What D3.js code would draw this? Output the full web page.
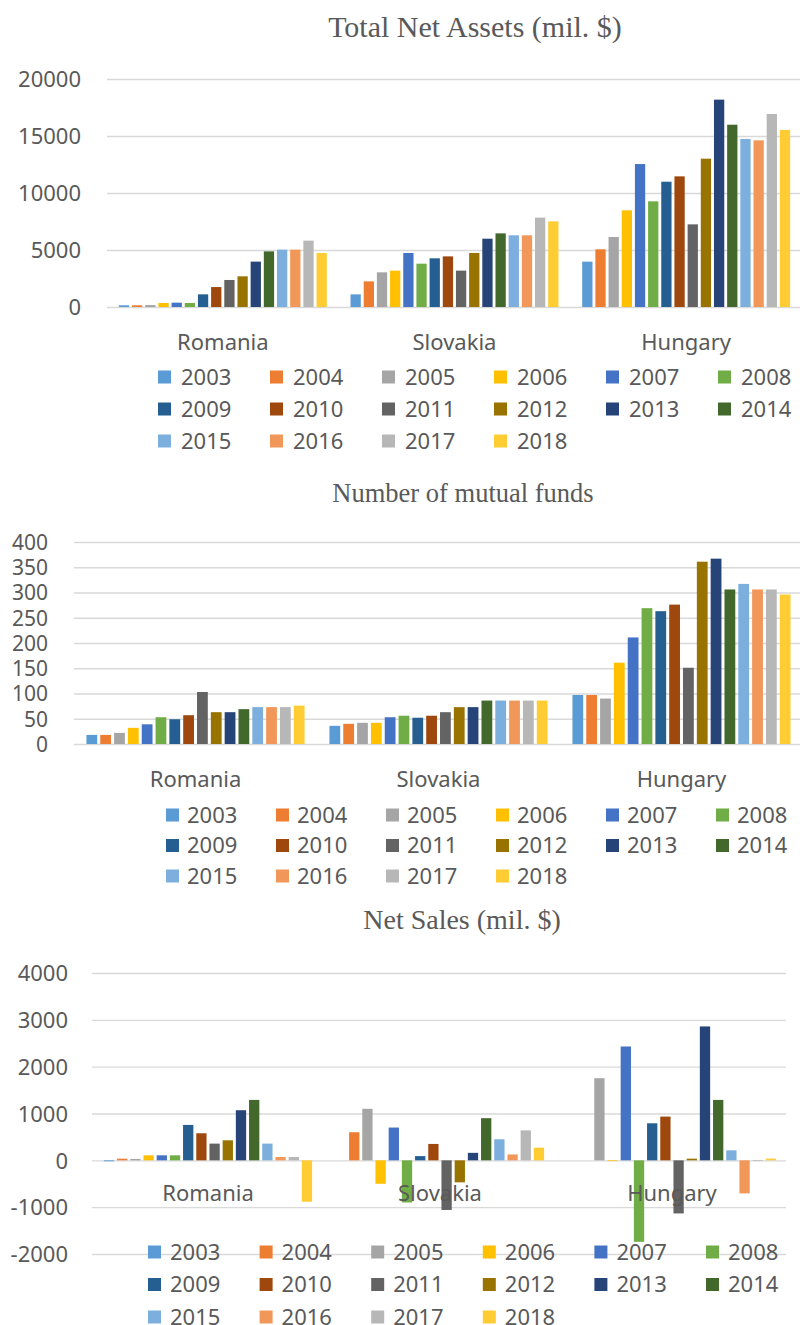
<!DOCTYPE html>
<html>
  <head>
    <meta charset="utf-8">
    <title>Romania, Slovakia, Hungary mutual funds</title>
    <script src="https://d3js.org/d3.v7.min.js"></script>
    <style>
      body { margin: 0; background: #fff; }
      .title { font-family: "Liberation Serif", serif; fill: #595959; text-anchor: middle; }
      .tick text, .legend text { font-family: "Noto Sans", sans-serif; fill: #595959; }
    </style>
  </head>
  <body>
    <div id="chart"></div>
    <script>
      // categories and series
      const countries = ["Romania", "Slovakia", "Hungary"];
      const years = ["2003", "2004", "2005", "2006", "2007", "2008", "2009", "2010",
                     "2011", "2012", "2013", "2014", "2015", "2016", "2017", "2018"];

      // Total Net Assets (mil. $)
      const netAssetsRomania = [150, 150, 170, 350, 380, 350, 1110, 1750, 2370, 2690, 3980, 4880, 5030, 5030, 5820, 4740];
      const netAssetsSlovakia = [1110, 2250, 3040, 3190, 4740, 3800, 4270, 4440, 3190, 4740, 5990, 6460, 6290, 6290, 7840, 7510];
      const netAssetsHungary = [3980, 5060, 6140, 8480, 12540, 9270, 10990, 11460, 7250, 13010, 18190, 15990, 14740, 14620, 16930, 15530];
      const netAssetsTicks = [0, 5000, 10000, 15000, 20000];

      // Number of mutual funds
      const fundsRomania = [18, 18, 22, 32, 39, 53, 49, 57, 103, 63, 63, 69, 73, 73, 73, 76];
      const fundsSlovakia = [36, 40, 42, 42, 53, 56, 52, 56, 63, 73, 73, 86, 86, 86, 86, 86];
      const fundsHungary = [97, 97, 90, 161, 211, 269, 263, 276, 151, 361, 367, 306, 317, 306, 306, 296];
      const fundsTicks = [0, 50, 100, 150, 200, 250, 300, 350, 400];

      // Net Sales (mil. $)
      const salesRomania = [-20, 35, 30, 107, 107, 107, 756, 578, 357, 428, 1070, 1290, 357, 71, 71, -884];
      const salesSlovakia = [0, 600, 1100, -500, 700, -900, 90, 350, -1060, -470, 160, 900, 450, 125, 640, 270];
      const salesHungary = [0, 0, 1754, -15, 2431, -1740, 791, 934, -1134, 36, 2859, 1290, 214, -706, -15, 36];
      const salesTicks = [-2000, -1000, 0, 1000, 2000, 3000, 4000];

      // office palette, one colour per year
      const colors = ["#5b9bd5", "#ed7d31", "#a5a5a5", "#ffc000", "#4472c4", "#70ad47",
                      "#255e91", "#9e480e", "#636363", "#997300", "#264478", "#43682b",
                      "#7cafdd", "#f1975a", "#b7b7b7", "#ffcd33"];

      const svg = d3.select("#chart").append("svg")
        .attr("width", 800)
        .attr("height", 1325);

      function drawChart(c) {
        const g = svg.append("g");

        const x0 = d3.scaleBand().domain(countries).range([c.left, c.right]);
        const x1 = d3.scaleBand().domain(years)
          .range([0, x0.bandwidth()])
          .paddingInner(0.22)
          .paddingOuter(0.9);
        const y = d3.scaleLinear().domain(c.domain).range([c.bottom, c.top]);

        // title
        g.append("text")
          .attr("class", "title")
          .attr("x", c.titleX)
          .attr("y", c.titleY)
          .style("font-size", c.titleSize + "px")
          .text(c.title);

        // gridlines + value labels
        const yAxis = g.append("g")
          .attr("transform", `translate(${c.left},0)`)
          .call(d3.axisLeft(y)
            .tickValues(c.ticks)
            .tickSize(-(c.gridRight - c.left))
            .tickPadding(c.left - c.labelRight)
            .tickFormat((d) => String(d)));
        yAxis.select(".domain").remove();
        yAxis.selectAll("line").attr("stroke", "#d9d9d9").attr("stroke-width", 1.3);
        yAxis.selectAll("text").style("font-size", c.tickSize + "px").attr("dy", "0.35em");

        // bars
        const groups = countries.map((k, i) => ({ country: k, values: c.series[i] }));
        g.append("g")
          .selectAll("g")
          .data(groups)
          .join("g")
          .attr("transform", (d) => `translate(${x0(d.country)},0)`)
          .selectAll("rect")
          .data((d) => d.values.map((v, j) => ({ year: years[j], value: v, i: j })))
          .join("rect")
          .attr("x", (d) => x1(d.year))
          .attr("width", x1.bandwidth())
          .attr("y", (d) => y(Math.max(0, d.value)))
          .attr("height", (d) => Math.abs(y(d.value) - y(0)))
          .attr("fill", (d) => colors[d.i]);

        // country labels
        const xAxis = g.append("g")
          .attr("transform", `translate(0,${c.catY})`)
          .call(d3.axisBottom(x0).tickSize(0).tickPadding(0));
        xAxis.select(".domain").remove();
        xAxis.selectAll("text").style("font-size", "22px").attr("dy", "0.35em");

        // legend
        const legend = g.append("g").attr("class", "legend");
        const item = legend.selectAll("g")
          .data(years)
          .join("g")
          .attr("transform", (d, i) =>
            `translate(${c.legX + (i % 6) * c.legStep},${c.legY + Math.floor(i / 6) * c.legRow})`);
        item.append("rect")
          .attr("x", 0)
          .attr("y", -6.5)
          .attr("width", 13)
          .attr("height", 13)
          .attr("fill", (d, i) => colors[i]);
        item.append("text")
          .attr("x", c.legText)
          .attr("dy", "0.35em")
          .style("font-size", "22px")
          .text((d) => d);
      }

      drawChart({
        title: "Total Net Assets (mil. $)", titleX: 475, titleY: 37, titleSize: 30,
        series: [netAssetsRomania, netAssetsSlovakia, netAssetsHungary],
        domain: [0, 20000], ticks: netAssetsTicks,
        left: 107, right: 802, gridRight: 800, top: 79, bottom: 307,
        labelRight: 81, tickSize: 22, catY: 342,
        legX: 158, legStep: 112, legY: 377, legRow: 32, legText: 23
      });

      drawChart({
        title: "Number of mutual funds", titleX: 463, titleY: 502, titleSize: 26.5,
        series: [fundsRomania, fundsSlovakia, fundsHungary],
        domain: [0, 400], ticks: fundsTicks,
        left: 74, right: 803, gridRight: 800, top: 542, bottom: 744,
        labelRight: 48, tickSize: 21, catY: 779,
        legX: 166, legStep: 110, legY: 815, legRow: 30.5, legText: 21
      });

      drawChart({
        title: "Net Sales (mil. $)", titleX: 462, titleY: 929, titleSize: 28,
        series: [salesRomania, salesSlovakia, salesHungary],
        domain: [-2000, 4000], ticks: salesTicks,
        left: 92, right: 788, gridRight: 786, top: 973, bottom: 1254,
        labelRight: 68, tickSize: 22, catY: 1193,
        legX: 148, legStep: 111.6, legY: 1252, legRow: 32.5, legText: 22
      });
    </script>
  </body>
</html>
